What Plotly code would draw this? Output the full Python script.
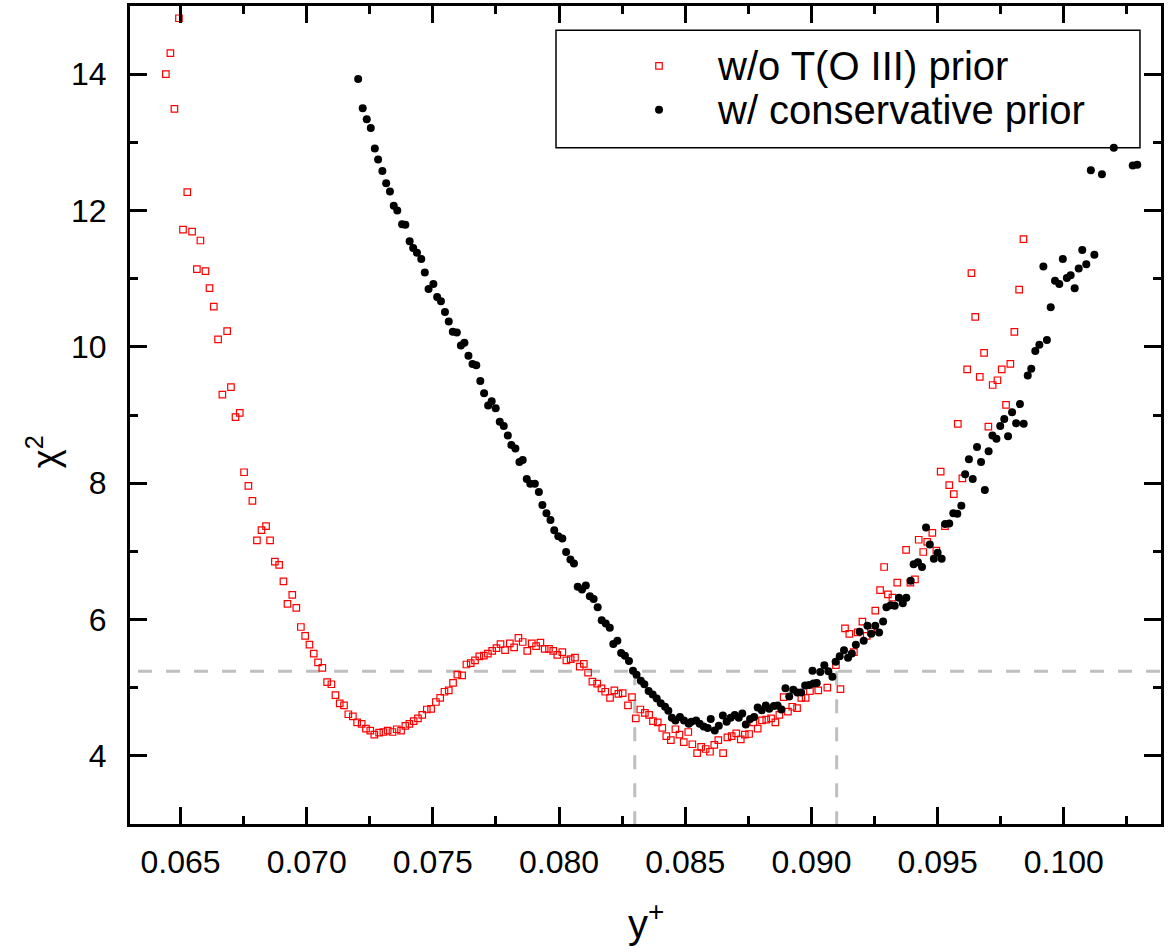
import plotly.graph_objects as go

# ---- data ----
red_x = [0.06442, 0.06460, 0.06476, 0.06494, 0.06510, 0.06527, 0.06546, 0.06565, 0.06579, 0.06599,
         0.06615, 0.06632, 0.06649, 0.06666, 0.06685, 0.06700, 0.06718, 0.06735, 0.06752, 0.06769,
         0.06785, 0.06803, 0.06821, 0.06839, 0.06855, 0.06874, 0.06891, 0.06908, 0.06924, 0.06943,
         0.06959, 0.06977, 0.06994, 0.07011, 0.07028, 0.07045, 0.07062, 0.07081, 0.07098, 0.07114,
         0.07131, 0.07148, 0.07165, 0.07183, 0.07200, 0.07218, 0.07235, 0.07252, 0.07268, 0.07287,
         0.07304, 0.07321, 0.07340, 0.07357, 0.07374, 0.07391, 0.07407, 0.07424, 0.07441, 0.07458,
         0.07476, 0.07493, 0.07512, 0.07529, 0.07546, 0.07563, 0.07580, 0.07597, 0.07616, 0.07633,
         0.07650, 0.07667, 0.07684, 0.07702, 0.07718, 0.07735, 0.07752, 0.07768, 0.07786, 0.07805,
         0.07822, 0.07839, 0.07856, 0.07874, 0.07892, 0.07909, 0.07926, 0.07943, 0.07960, 0.07977,
         0.07993, 0.08013, 0.08029, 0.08046, 0.08063, 0.08082, 0.08098, 0.08115, 0.08132, 0.08151,
         0.08168, 0.08183, 0.08202, 0.08219, 0.08235, 0.08252, 0.08273, 0.08289, 0.08304, 0.08322,
         0.08340, 0.08357, 0.08372, 0.08391, 0.08409, 0.08425, 0.08443, 0.08461, 0.08477, 0.08494,
         0.08512, 0.08528, 0.08547, 0.08563, 0.08581, 0.08598, 0.08615, 0.08631, 0.08650, 0.08667,
         0.08684, 0.08702, 0.08720, 0.08736, 0.08753, 0.08770, 0.08787, 0.08804, 0.08821, 0.08840,
         0.08857, 0.08873, 0.08890, 0.08907, 0.08924, 0.08943, 0.08960, 0.08977, 0.08994, 0.09027,
         0.09063, 0.09097, 0.09115, 0.09133, 0.09150, 0.09168, 0.09183, 0.09202, 0.09219, 0.09236,
         0.09253, 0.09272, 0.09288, 0.09303, 0.09321, 0.09340, 0.09375, 0.09392, 0.09410, 0.09425,
         0.09443, 0.09459, 0.09479, 0.09495, 0.09512, 0.09529, 0.09546, 0.09564, 0.09580, 0.09598,
         0.09617, 0.09634, 0.09649, 0.09667, 0.09684, 0.09701, 0.09718, 0.09737, 0.09754, 0.09771,
         0.09788, 0.09804, 0.09823, 0.09840]
red_y = [14.00, 14.31, 13.49, 14.82, 11.72, 12.27, 11.69, 11.14, 11.56, 11.11,
         10.86, 10.59, 10.11, 9.30, 10.23, 9.41, 8.97, 9.03, 8.16, 7.96,
         7.74, 7.16, 7.31, 7.37, 7.16, 6.85, 6.80, 6.56, 6.23, 6.36,
         6.17, 5.89, 5.76, 5.63, 5.50, 5.37, 5.29, 5.08, 5.05, 4.89,
         4.77, 4.74, 4.61, 4.58, 4.49, 4.47, 4.40, 4.37, 4.31, 4.34,
         4.35, 4.37, 4.35, 4.39, 4.37, 4.44, 4.47, 4.51, 4.55, 4.60,
         4.68, 4.69, 4.79, 4.85, 4.94, 4.96, 5.07, 5.19, 5.18, 5.34,
         5.36, 5.40, 5.46, 5.47, 5.50, 5.54, 5.58, 5.64, 5.55, 5.65,
         5.59, 5.73, 5.67, 5.54, 5.65, 5.61, 5.66, 5.57, 5.57, 5.54,
         5.48, 5.52, 5.40, 5.42, 5.44, 5.31, 5.35, 5.22, 5.09, 5.06,
         4.99, 4.94, 4.85, 4.96, 4.91, 4.92, 4.74, 4.86, 4.55, 4.68,
         4.63, 4.60, 4.51, 4.49, 4.41, 4.29, 4.23, 4.39, 4.31, 4.20,
         4.35, 4.17, 4.04, 4.13, 4.10, 4.06, 4.16, 4.23, 4.04, 4.27,
         4.29, 4.33, 4.24, 4.31, 4.32, 4.49, 4.40, 4.52, 4.53, 4.55,
         4.49, 4.60, 4.86, 4.65, 4.72, 4.70, 4.85, 4.85, 4.95, 4.96,
         5.00, 5.33, 4.98, 5.87, 5.79, 5.52, 5.81, 5.97, 5.76, 5.82,
         6.13, 6.43, 6.77, 6.37, 6.32, 6.54, 7.02, 6.54, 6.59, 7.17,
         6.99, 7.14, 7.27, 7.01, 8.17, 7.37, 7.97, 7.84, 8.87, 8.07,
         9.67, 11.08, 10.44, 9.56, 9.91, 8.83, 9.44, 9.51, 9.67, 9.15,
         9.75, 10.22, 10.84, 11.58]

black_x = [0.07204, 0.07222, 0.07238, 0.07254, 0.07270, 0.07283, 0.07300, 0.07315, 0.07330, 0.07345,
           0.07359, 0.07378, 0.07391, 0.07408, 0.07422, 0.07437, 0.07454, 0.07468, 0.07483, 0.07502,
           0.07517, 0.07532, 0.07548, 0.07563, 0.07579, 0.07595, 0.07611, 0.07625, 0.07641, 0.07657,
           0.07672, 0.07688, 0.07703, 0.07719, 0.07733, 0.07749, 0.07765, 0.07781, 0.07797, 0.07811,
           0.07827, 0.07843, 0.07856, 0.07872, 0.07886, 0.07904, 0.07920, 0.07934, 0.07950, 0.07966,
           0.07981, 0.07997, 0.08013, 0.08028, 0.08045, 0.08059, 0.08074, 0.08091, 0.08106, 0.08122,
           0.08137, 0.08153, 0.08169, 0.08185, 0.08201, 0.08215, 0.08231, 0.08246, 0.08261, 0.08277,
           0.08293, 0.08307, 0.08324, 0.08338, 0.08355, 0.08371, 0.08387, 0.08403, 0.08420, 0.08433,
           0.08447, 0.08461, 0.08479, 0.08495, 0.08514, 0.08524, 0.08543, 0.08557, 0.08573, 0.08589,
           0.08601, 0.08617, 0.08633, 0.08649, 0.08664, 0.08680, 0.08696, 0.08712, 0.08726, 0.08740,
           0.08757, 0.08773, 0.08787, 0.08803, 0.08819, 0.08833, 0.08851, 0.08866, 0.08881, 0.08897,
           0.08912, 0.08928, 0.08944, 0.08959, 0.08975, 0.08991, 0.09004, 0.09008, 0.09021, 0.09035,
           0.09051, 0.09067, 0.09083, 0.09096, 0.09112, 0.09129, 0.09145, 0.09160, 0.09176, 0.09191,
           0.09207, 0.09222, 0.09237, 0.09253, 0.09268, 0.09284, 0.09297, 0.09314, 0.09330, 0.09347,
           0.09362, 0.09376, 0.09393, 0.09405, 0.09422, 0.09438, 0.09454, 0.09469, 0.09485, 0.09500,
           0.09516, 0.09530, 0.09546, 0.09562, 0.09578, 0.09594, 0.09609, 0.09624, 0.09639, 0.09656,
           0.09672, 0.09687, 0.09702, 0.09717, 0.09733, 0.09748, 0.09764, 0.09779, 0.09795, 0.09811,
           0.09826, 0.09841, 0.09857, 0.09871, 0.09887, 0.09903, 0.09919, 0.09933, 0.09948, 0.09965,
           0.09982, 0.09996, 0.10012, 0.10027, 0.10043, 0.10059, 0.10073, 0.10089, 0.10107, 0.10121,
           0.10151, 0.10198, 0.10273, 0.10291]
black_y = [13.93, 13.50, 13.34, 13.21, 12.91, 12.75, 12.58, 12.40, 12.28, 12.07,
           12.00, 11.80, 11.79, 11.55, 11.45, 11.38, 11.29, 11.09, 10.85, 10.92,
           10.73, 10.67, 10.51, 10.37, 10.22, 10.21, 10.02, 10.06, 9.87, 9.75,
           9.73, 9.50, 9.32, 9.14, 9.20, 9.10, 8.90, 8.84, 8.70, 8.56,
           8.51, 8.31, 8.34, 8.06, 7.99, 7.99, 7.87, 7.68, 7.56, 7.46,
           7.31, 7.22, 7.19, 6.99, 6.88, 6.82, 6.48, 6.44, 6.50, 6.34,
           6.30, 6.18, 5.99, 5.94, 5.88, 5.64, 5.69, 5.51, 5.47, 5.39,
           5.25, 5.19, 5.10, 5.05, 4.95, 4.90, 4.84, 4.77, 4.72, 4.66,
           4.56, 4.52, 4.57, 4.52, 4.47, 4.50, 4.52, 4.47, 4.43, 4.41,
           4.54, 4.37, 4.44, 4.59, 4.50, 4.56, 4.60, 4.56, 4.62, 4.46,
           4.54, 4.57, 4.71, 4.67, 4.74, 4.69, 4.73, 4.74, 4.68, 4.99,
           4.87, 4.97, 4.93, 4.93, 5.03, 5.04, 5.25, 5.06, 5.07, 5.23,
           5.33, 5.24, 5.16, 5.38, 5.46, 5.55, 5.44, 5.50, 5.63, 5.82,
           5.69, 5.91, 5.79, 5.91, 5.81, 5.97, 6.18, 6.21, 6.20, 6.32,
           6.24, 6.32, 6.57, 6.81, 6.84, 6.77, 7.35, 7.10, 6.89, 6.98,
           6.89, 7.40, 7.41, 7.56, 7.55, 7.67, 8.13, 8.35, 8.06, 8.53,
           8.31, 7.90, 8.47, 8.70, 8.65, 8.84, 8.94, 8.69, 9.04, 8.88,
           9.16, 8.87, 9.58, 9.68, 9.94, 10.03, 11.18, 10.10, 10.58, 10.97,
           10.92, 11.29, 11.01, 11.05, 10.86, 11.15, 11.42, 11.21, 12.59, 11.35,
           12.53, 12.92, 12.66, 12.67]

red_name = "w/o T(O III) prior"
black_name = "w/ conservative prior"

chi2_level = 5.24          # horizontal reference level
y_bounds = [0.083, 0.091]  # vertical reference lines
hline_start = 0.06332

x_range = [0.0630, 0.10385]
y_range = [3, 15]
x_ticks = [0.065, 0.070, 0.075, 0.080, 0.085, 0.090, 0.095, 0.100]
x_ticklabels = ["0.065", "0.070", "0.075", "0.080", "0.085", "0.090", "0.095", "0.100"]
x_minor = [0.0625, 0.0675, 0.0725, 0.0775, 0.0825, 0.0875, 0.0925, 0.0975, 0.1025]
y_ticks = [4, 6, 8, 10, 12, 14]
y_minor = [3, 5, 7, 9, 11, 13, 15]

FONT = "Liberation Sans, Arial, sans-serif"
TICKFONT = 32
TITLEFONT = 40
LEGENDFONT = 40

red_marker = dict(symbol="square-open", size=6.5, color="#ff0000", line=dict(width=1.2, color="#ff0000"))
black_marker = dict(symbol="circle", size=8, color="#000000", line=dict(width=0))

fig = go.Figure()
fig.add_trace(go.Scatter(x=red_x, y=red_y, mode="markers", name=red_name,
                         marker=red_marker, showlegend=False))
fig.add_trace(go.Scatter(x=black_x, y=black_y, mode="markers", name=black_name,
                         marker=black_marker, showlegend=False))

# legend symbols, drawn on a hidden overlay axis spanning the plot area (0..1)
leg_x = 0.5131
leg_y = [0.9267, 0.8731]
fig.add_trace(go.Scatter(x=[leg_x], y=[leg_y[0]], mode="markers", marker=red_marker,
                         xaxis="x2", yaxis="y2", showlegend=False, hoverinfo="skip"))
fig.add_trace(go.Scatter(x=[leg_x], y=[leg_y[1]], mode="markers", marker=black_marker,
                         xaxis="x2", yaxis="y2", showlegend=False, hoverinfo="skip"))

grey = "#bfbfbf"
dash = "14px,14px"
fig.add_shape(type="line", xref="x", yref="y", x0=hline_start, x1=x_range[1],
              y0=chi2_level, y1=chi2_level, line=dict(color=grey, width=3, dash=dash), layer="below")
for xb in y_bounds:
    fig.add_shape(type="line", xref="x", yref="y", x0=xb, x1=xb,
                  y0=chi2_level, y1=y_range[0], line=dict(color=grey, width=3, dash=dash), layer="below")

# legend frame
fig.add_shape(type="rect", xref="paper", yref="paper", x0=0.4132, x1=0.9796, y0=0.8268, y1=0.9704,
              line=dict(color="black", width=1.5), fillcolor="white", layer="below")
for name, yy in zip([red_name, black_name], leg_y):
    fig.add_annotation(text=name, xref="paper", yref="paper", x=0.5674, y=yy,
                       xanchor="left", yanchor="middle", showarrow=False,
                       font=dict(family=FONT, size=LEGENDFONT, color="black"))

tickfont = dict(family=FONT, size=TICKFONT, color="black")

xaxis = dict(
    range=x_range, tickvals=x_ticks, ticktext=x_ticklabels,
    showline=True, linecolor="black", linewidth=3, mirror="ticks",
    ticks="inside", ticklen=17, tickwidth=3, tickcolor="black",
    showgrid=False, zeroline=False, tickfont=tickfont, ticklabelstandoff=8,
    minor=dict(ticks="inside", ticklen=8, tickwidth=3, tickcolor="black",
               tickvals=x_minor, showgrid=False),
)
yaxis = dict(
    range=y_range, tickvals=y_ticks, ticktext=[str(v) for v in y_ticks],
    showline=True, linecolor="black", linewidth=3, mirror="ticks",
    ticks="inside", ticklen=17, tickwidth=3, tickcolor="black",
    showgrid=False, zeroline=False, tickfont=tickfont, ticklabelstandoff=14,
    minor=dict(ticks="inside", ticklen=8, tickwidth=3, tickcolor="black",
               tickvals=y_minor, showgrid=False),
)

fig.add_annotation(text="y<sup>+</sup>", xref="paper", yref="paper", x=0.5005, y=-0.118,
                   xanchor="center", yanchor="middle", showarrow=False,
                   font=dict(family=FONT, size=TITLEFONT, color="black"))
fig.add_annotation(text="χ<sup>2</sup>", xref="paper", yref="paper", x=-0.085, y=0.455,
                   xanchor="center", yanchor="middle", textangle=-90, showarrow=False,
                   font=dict(family=FONT, size=36, color="black"))

fig.update_layout(
    width=1172, height=952,
    margin=dict(l=130, r=11, t=3, b=128),
    paper_bgcolor="white", plot_bgcolor="white",
    showlegend=False,
    xaxis=xaxis,
    yaxis=yaxis,
    xaxis2=dict(overlaying="x", range=[0, 1], visible=False, fixedrange=True),
    yaxis2=dict(overlaying="y", range=[0, 1], visible=False, fixedrange=True),
)

fig.write_html("out.html")
